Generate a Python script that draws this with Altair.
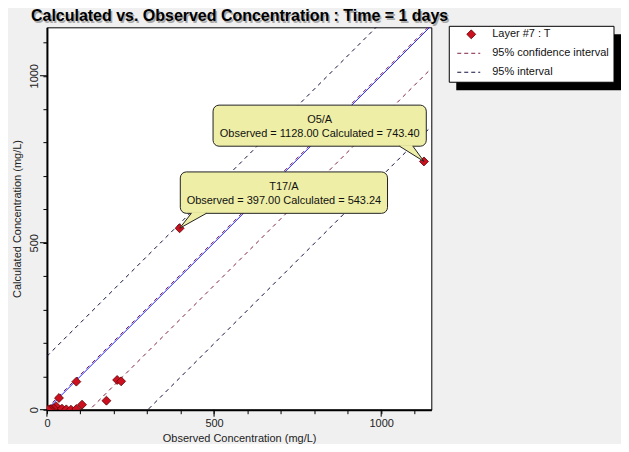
import altair as alt
import pandas as pd

# ---------------- data ----------------
observed = [397.0, 1128.0, 88, 210, 222, 178, 105, 36, 28, 20, 12, 45, 58, 72, 88, 8, 3]
calculated = [543.24, 743.40, 84, 89, 85, 27, 15, 35, 10, 4, 2, 3, 1, 0, 2, 1, 0]

# reference lines (endpoints in data units)
line_names = ["1:1", "conf_hi", "conf_lo", "int_hi", "int_lo"]
line_kind = ["identity", "conf", "conf", "interval", "interval"]
line_x0 = [0, 0, 0, 0, 0]
line_x1 = [1150, 1150, 1150, 1150, 1150]
line_y0 = [0, 5, -128, 160, -302]
line_y1 = [1150, 1155, 1022, 1310, 848]

# callouts
call_names = ["T17/A", "O5/A"]
call_text2 = ["Observed = 397.00 Calculated = 543.24", "Observed = 1128.00 Calculated = 743.40"]
call_px = [397.0, 1128.0]
call_py = [543.24, 743.40]
box_x0 = [399, 497]
box_x1 = [1019, 1135]
box_y0 = [588, 789]
box_y1 = [712, 912]
wedge_b1 = [432, 1055]
wedge_b2 = [477, 1095]
text_cx = [709, 816]
text_y1 = [667, 867]
text_y2 = [625, 825]

legend_labels = ["Layer #7 : T", "95% confidence interval", "95% interval"]

TITLE = "Calculated vs. Observed Concentration : Time = 1 days"
FONT = "Liberation Sans"

XD = [0, 1150]
YD = [0, 1145]
TICKS = list(range(0, 1200, 100))
MAJOR = [0, 500, 1000]

# ---------------- frames ----------------
df_pts = pd.DataFrame({"x": observed, "y": calculated})

rows = []
for n, k, a, b, c, d in zip(line_names, line_kind, line_x0, line_x1, line_y0, line_y1):
    rows.append({"name": n, "kind": k, "x": a, "y": c})
    rows.append({"name": n, "kind": k, "x": b, "y": d})
df_lines = pd.DataFrame(rows)

df_box = pd.DataFrame({"x": box_x0, "x2": box_x1, "y": box_y0, "y2": box_y1})

wrows = []
erows = []
brows = []
for i in range(len(call_names)):
    A = (call_px[i], call_py[i])
    B = (wedge_b1[i], box_y0[i])
    C = (wedge_b2[i], box_y0[i])
    pts = sorted([A, B, C], key=lambda p: p[0])
    p0, pm, p2 = pts
    t = (pm[0] - p0[0]) / (p2[0] - p0[0])
    yi = p0[1] + (p2[1] - p0[1]) * t
    wrows += [
        {"id": i, "x": p0[0], "y": p0[1], "y2": p0[1]},
        {"id": i, "x": pm[0], "y": pm[1], "y2": yi},
        {"id": i, "x": p2[0], "y": p2[1], "y2": p2[1]},
    ]
    erows += [
        {"seg": f"{i}a", "x": A[0], "y": A[1]}, {"seg": f"{i}a", "x": B[0], "y": B[1]},
        {"seg": f"{i}b", "x": A[0], "y": A[1]}, {"seg": f"{i}b", "x": C[0], "y": C[1]},
    ]
    brows.append({"x": B[0] + 2, "x2": C[0] - 2, "y": box_y0[i]})
df_wedge = pd.DataFrame(wrows)
df_edge = pd.DataFrame(erows)
df_base = pd.DataFrame(brows)

df_ctext = pd.DataFrame({
    "x": text_cx * 2,
    "y": text_y1 + text_y2,
    "t": call_names + call_text2,
})

xs = alt.Scale(domain=XD, nice=False, zero=False)
ys = alt.Scale(domain=YD, nice=False, zero=False)

common = dict(
    values=TICKS,
    labelExpr="datum.value % 500 == 0 ? datum.label : ''",
    format="d", grid=False, domainColor="black", domainWidth=2,
    tickColor="black", tickSize=4, tickWidth=1, labelFont=FONT, labelFontSize=11,
    labelColor="#222", labelFlush=False, labelOverlap=False,
    titleFont=FONT, titleFontSize=11, titleFontWeight="normal", titleColor="#222",
)
xaxis = alt.Axis(labelPadding=4, title="Observed Concentration (mg/L)",
                 titlePadding=4, **common)
yaxis = alt.Axis(labelAngle=270, labelPadding=3, title="Calculated Concentration (mg/L)",
                 titlePadding=6, **common)

X = alt.X("x:Q", scale=xs, axis=xaxis)
Y = alt.Y("y:Q", scale=ys, axis=yaxis)

ident = alt.Chart(df_lines[df_lines.kind == "identity"]).mark_line(
    clip=True, color="#2020ff", strokeWidth=1
).encode(x=X, y=Y, detail="name:N")

conf = alt.Chart(df_lines[df_lines.kind == "conf"]).mark_line(
    clip=True, color="#802040", strokeWidth=1, strokeDash=[4, 4]
).encode(x=X, y=Y, detail="name:N")

interval = alt.Chart(df_lines[df_lines.kind == "interval"]).mark_line(
    clip=True, color="#101040", strokeWidth=1, strokeDash=[4, 4]
).encode(x=X, y=Y, detail="name:N")

points = alt.Chart(df_pts).mark_point(
    shape="diamond", filled=True, size=80, fill="#cc1020", stroke="#5a0000",
    strokeWidth=0.8, opacity=1, clip=True
).encode(x=X, y=Y)

BOXFILL = "#eeeea6"
boxes = alt.Chart(df_box).mark_rect(
    fill=BOXFILL, stroke="#222", strokeWidth=1, cornerRadius=6
).encode(x=X, x2="x2:Q", y=Y, y2="y2:Q")

wedge = alt.Chart(df_wedge).mark_area(fill=BOXFILL, opacity=1).encode(
    x=X, y=Y, y2="y2:Q", detail="id:N"
)
base_cover = alt.Chart(df_base).mark_rule(color=BOXFILL, strokeWidth=2).encode(
    x=X, x2="x2:Q", y=Y
)
edges = alt.Chart(df_edge).mark_line(color="#222", strokeWidth=1).encode(
    x=X, y=Y, detail="seg:N"
)
ctext = alt.Chart(df_ctext).mark_text(
    font=FONT, fontSize=11, color="#111", baseline="middle", align="center"
).encode(x=X, y=Y, text="t:N")

# longer ticks at the labelled values (drawn outside the plot)
df_major = pd.DataFrame({"v": MAJOR})
xmajor = alt.Chart(df_major).mark_rule(color="black", strokeWidth=1).encode(
    x=alt.X("v:Q", scale=xs, axis=xaxis), y=alt.value(383), y2=alt.value(390)
)
ymajor = alt.Chart(df_major).mark_rule(color="black", strokeWidth=1).encode(
    y=alt.Y("v:Q", scale=ys, axis=yaxis), x=alt.value(0), x2=alt.value(-7)
)

# ---------------- legend (pixel positions) ----------------
one = pd.DataFrame({"a": [0]})
shadow = alt.Chart(one).mark_rect(fill="black").encode(
    x=alt.value(410), x2=alt.value(576), y=alt.value(7), y2=alt.value(63)
)
lbox = alt.Chart(one).mark_rect(fill="white", stroke="black", strokeWidth=1).encode(
    x=alt.value(403), x2=alt.value(568), y=alt.value(-1), y2=alt.value(55)
)
ldiamond = alt.Chart(one).mark_point(
    shape="diamond", filled=True, size=80, fill="#cc1020", stroke="#5a0000", strokeWidth=0.8, opacity=1
).encode(x=alt.value(425), y=alt.value(7))
ldash1 = alt.Chart(one).mark_rule(color="#802040", strokeDash=[4, 3]).encode(
    x=alt.value(411), x2=alt.value(434), y=alt.value(26)
)
ldash2 = alt.Chart(one).mark_rule(color="#101040", strokeDash=[4, 3]).encode(
    x=alt.value(411), x2=alt.value(434), y=alt.value(45)
)
df_leg = pd.DataFrame({"t": legend_labels, "py": [7, 26, 45]})
ltext = alt.Chart(df_leg).mark_text(
    font=FONT, fontSize=11, color="#111", align="left", baseline="middle"
).encode(x=alt.value(446), y=alt.Y("py:Q", scale=None), text="t:N")

# ---------------- title with shadow ----------------
df_title = pd.DataFrame({"t": [TITLE]})
tshadow = alt.Chart(df_title).mark_text(
    font=FONT, fontSize=16, fontWeight="bold", color="#a8a8a8",
    align="center", baseline="alphabetic", dx=1.5, dy=1.5
).encode(x=alt.value(193), y=alt.value(-6), text="t:N")
ttext = alt.Chart(df_title).mark_text(
    font=FONT, fontSize=16, fontWeight="bold", color="black",
    align="center", baseline="alphabetic"
).encode(x=alt.value(193), y=alt.value(-6), text="t:N")

chart = alt.layer(
    ident, conf, interval, points, boxes, wedge, base_cover, edges, ctext,
    xmajor, ymajor,
    shadow, lbox, ldiamond, ldash1, ldash2, ltext, tshadow, ttext
).properties(
    width=385, height=383,
    padding={"left": 39, "top": 19, "right": 190, "bottom": 34},
    autosize=alt.AutoSizeParams(type="none"),
    background="#f0f0f0",
).configure_view(
    fill="white", stroke="black", strokeWidth=1
)

chart.save("out.html", embed_options={"renderer": "svg", "actions": False})
